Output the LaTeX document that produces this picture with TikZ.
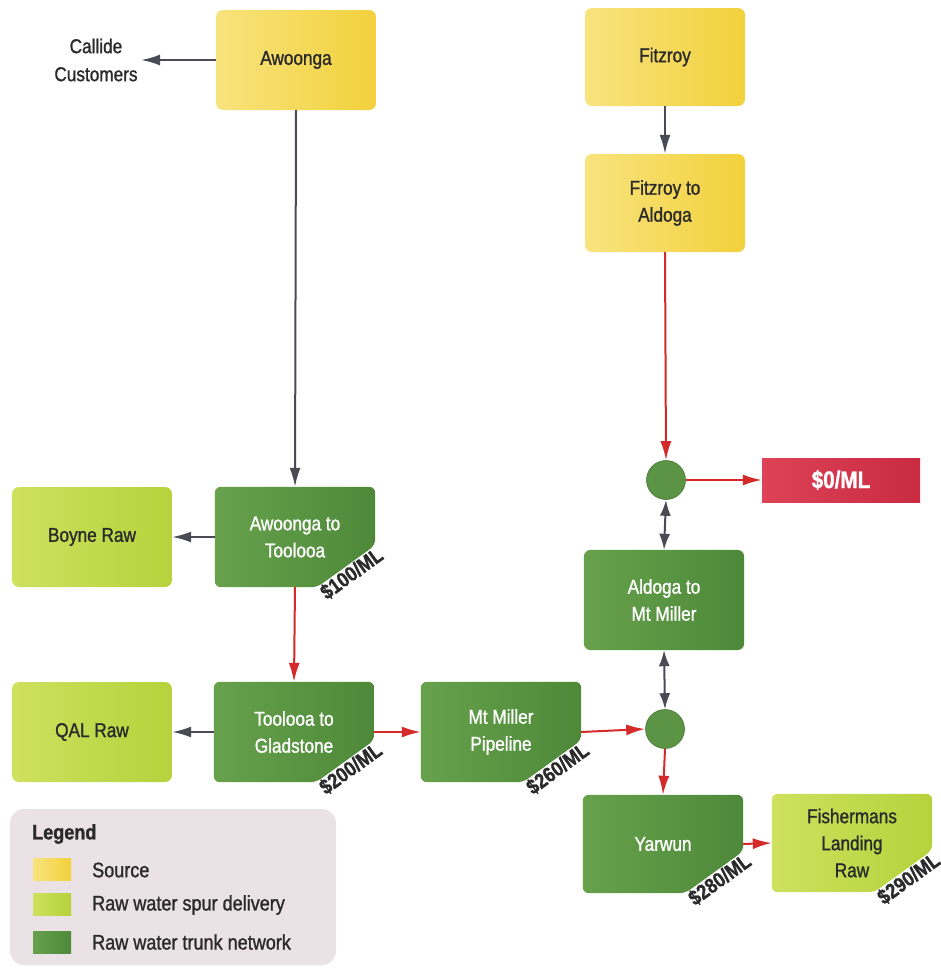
\documentclass[tikz,border=0pt]{standalone}
\usepackage{fontspec}
\setmainfont[FakeStretch=0.86,FakeBold=1.2]{Liberation Sans}
\usetikzlibrary{arrows.meta,calc,backgrounds}
\definecolor{srcL}{HTML}{F8E37E}
\definecolor{srcR}{HTML}{F2D13C}
\definecolor{spurL}{HTML}{CDE15E}
\definecolor{spurR}{HTML}{B6D23C}
\definecolor{trkL}{HTML}{67A14C}
\definecolor{trkR}{HTML}{4D8939}
\definecolor{redL}{HTML}{DD4257}
\definecolor{redR}{HTML}{C92B42}
\definecolor{circ}{HTML}{5A9444}
\definecolor{legbg}{HTML}{EBE2E6}
\definecolor{txtdark}{HTML}{2A2A2A}
\definecolor{arrgray}{HTML}{4A4A55}
\definecolor{arrred}{HTML}{D42A2A}
\newcommand\chamfill[2]{%
  \begin{pgfonlayer}{background}
  \shade[#2, rounded corners=6pt] (#1.north west) -- (#1.north east) --
    ([yshift=42pt]#1.south east) -- ([xshift=-58pt]#1.south east) --
    (#1.south west) -- cycle;
  \end{pgfonlayer}}
\begin{document}
\begin{tikzpicture}[x=1pt,y=-1pt,
  box/.style={minimum width=160pt, minimum height=98pt, inner sep=0pt, align=center,
    font=\fontsize{20}{27}\selectfont},
  srcbox/.style={box, rounded corners=7pt, left color=srcL, right color=srcR, text=txtdark},
  spurbox/.style={box, rounded corners=7pt, left color=spurL, right color=spurR, text=txtdark},
  trkbox/.style={box, text=white},
  price/.style={rotate=36, anchor=north, inner sep=0.5pt, text=txtdark,
    font=\bfseries\fontsize{21}{21}\selectfont},
  junction/.style={circle, minimum size=39pt, inner sep=0pt, fill=circ, draw=circ!80!black, line width=0.6pt},
  garrow/.style={draw=arrgray, line width=2pt, -{Latex[length=19pt,width=11pt]}},
  gdarrow/.style={draw=arrgray, line width=2pt, {Latex[length=16pt,width=11pt]}-{Latex[length=16pt,width=11pt]}},
  rarrow/.style={draw=arrred, line width=2pt, -{Latex[length=19pt,width=11pt]}},
  legtext/.style={anchor=west, inner sep=0pt, text=txtdark, font=\fontsize{21}{21}\selectfont},
  swatch/.style={minimum width=38pt, minimum height=22pt, inner sep=0pt}
]
\useasboundingbox (0,0) rectangle (940,969);
\begin{pgfonlayer}{background}
\fill[white] (0,0) rectangle (940,969);
\end{pgfonlayer}

% sources
\node[srcbox, minimum height=100pt] (awoonga) at (296,60) {Awoonga};
\node[srcbox] (fitzroy) at (665,57) {Fitzroy};
\node[srcbox] (fta) at (665,203) {Fitzroy to\\Aldoga};

% Callide
\node[align=center, text=txtdark, font=\fontsize{20}{28}\selectfont] (callide) at (96,60) {Callide\\Customers};

% spur boxes
\node[spurbox, minimum height=100pt] (boyne) at (92,537) {Boyne Raw};
\node[spurbox, minimum height=100pt] (qal) at (92,732) {QAL Raw};

% trunk boxes (chamfered)
\node[trkbox, minimum height=100pt] (att) at (295,537) {Awoonga to\\Toolooa};
\chamfill{att}{left color=trkL, right color=trkR}
\node[price] (patt) at ([xshift=-29pt,yshift=21pt]att.south east) {\$100/ML};

\node[trkbox, minimum height=100pt] (ttg) at (294,732) {Toolooa to\\Gladstone};
\chamfill{ttg}{left color=trkL, right color=trkR}
\node[price] (pttg) at ([xshift=-29pt,yshift=21pt]ttg.south east) {\$200/ML};

\node[trkbox, minimum height=100pt] (mmp) at (501,732) {Mt Miller\\Pipeline};
\chamfill{mmp}{left color=trkL, right color=trkR}
\node[price] (pmmp) at ([xshift=-29pt,yshift=21pt]mmp.south east) {\$260/ML};

\node[trkbox, minimum height=100pt] (aldoga) at (664,600) {Aldoga to\\Mt Miller};
\begin{pgfonlayer}{background}
\shade[left color=trkL, right color=trkR, rounded corners=7pt] (aldoga.north west) rectangle (aldoga.south east);
\end{pgfonlayer}

\node[trkbox] (yarwun) at (663,844) {Yarwun};
\chamfill{yarwun}{left color=trkL, right color=trkR}
\node[price] (pyar) at ([xshift=-29pt,yshift=21pt]yarwun.south east) {\$280/ML};

\node[box, text=txtdark] (fish) at (852,843) {Fishermans\\Landing\\Raw};
\chamfill{fish}{left color=spurL, right color=spurR}
\node[price] (pfish) at ([xshift=-29pt,yshift=21pt]fish.south east) {\$290/ML};

% junctions and $0
\node[junction] (c1) at (666,480) {};
\node[junction] (c2) at (665,729) {};
\node[minimum width=158pt, minimum height=44pt, inner sep=0pt, left color=redL, right color=redR,
  text=white, font=\bfseries\fontsize{24}{24}\selectfont] (zero) at (841,480) {\$0/ML};

% connectors
\draw[garrow] (awoonga.west) -- (callide.east);
\draw[garrow] (awoonga.south) -- (att.north);
\draw[garrow] (att.west) -- (boyne.east);
\draw[garrow] (ttg.west) -- (qal.east);
\draw[rarrow] (att.south) -- (ttg.north);
\draw[rarrow] (ttg.east) -- (mmp.west);
\draw[rarrow] (mmp.east) -- (c2.west);
\draw[rarrow] (c2.south) -- (yarwun.north);
\draw[rarrow] (yarwun.east) -- (fish.west);
\draw[garrow] (fitzroy.south) -- (fta.north);
\draw[rarrow] (fta.south) -- (c1.north);
\draw[rarrow] (c1.east) -- (zero.west);
\draw[gdarrow] (c1.south) -- (aldoga.north);
\draw[gdarrow] (aldoga.south) -- (c2.north);

% legend
\node[minimum width=326pt, minimum height=156pt, inner sep=0pt, fill=legbg, rounded corners=14pt] (legend) at (173,887) {};
\node[legtext, font=\bfseries\fontsize{21}{21}\selectfont] (legtitle) at (32,834) {Legend};
\node[swatch, left color=srcL, right color=srcR] (sw1) at (52,869) {};
\node[swatch, left color=spurL, right color=spurR] (sw2) at (52,904) {};
\node[swatch, left color=trkL, right color=trkR] (sw3) at (52,942) {};
\node[legtext] (lt1) at (92,870) {Source};
\node[legtext] (lt2) at (92,905) {Raw water spur delivery};
\node[legtext] (lt3) at (92,942) {Raw water trunk network};
\end{tikzpicture}
\end{document}
